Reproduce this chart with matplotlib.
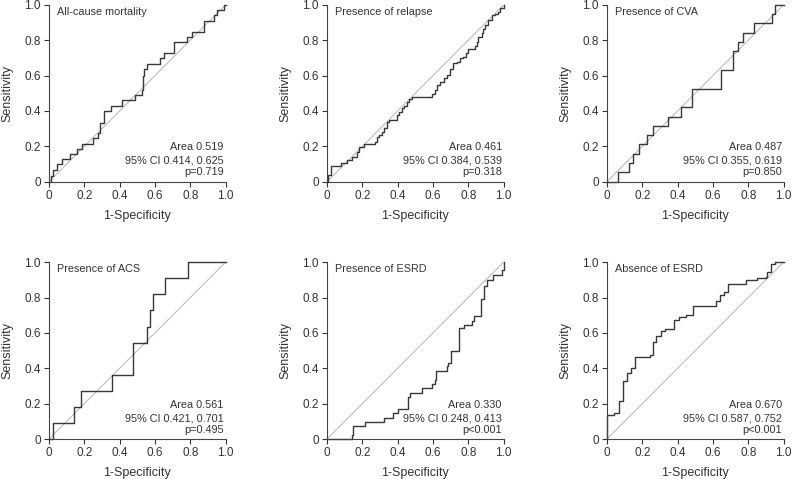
import matplotlib
matplotlib.use("Agg")
import matplotlib.pyplot as plt

plt.rcParams['font.family'] = ['Liberation Sans', 'DejaVu Sans']

# =================================
# Data
# =================================
titles = ["All-cause mortality", "Presence of relapse", "Presence of CVA",
          "Presence of ACS", "Presence of ESRD", "Absence of ESRD"]
areas = ["0.519", "0.461", "0.487", "0.561", "0.330", "0.670"]
cis = ["0.414, 0.625", "0.384, 0.539", "0.355, 0.619",
       "0.421, 0.701", "0.248, 0.413", "0.587, 0.752"]
pvals = ["p=0.719", "p=0.318", "p=0.850", "p=0.495", "p<0.001", "p<0.001"]

fpr_mort = [0, 0.01, 0.02, 0.044, 0.072, 0.119, 0.157, 0.189, 0.248, 0.28, 0.286,
            0.3125, 0.35, 0.413, 0.485, 0.527, 0.532, 0.54, 0.555, 0.63, 0.65,
            0.706, 0.782, 0.81, 0.877, 0.934, 0.953, 0.99, 1.0]
tpr_mort = [0, 0.03, 0.066, 0.10, 0.126, 0.156, 0.185, 0.213, 0.245, 0.273, 0.333,
            0.399, 0.427, 0.461, 0.49, 0.52, 0.60, 0.635, 0.668, 0.697, 0.729,
            0.791, 0.819, 0.847, 0.91, 0.94, 0.97, 1.0, 1.0]

fpr_relapse = [0, 0.006, 0.02, 0.077, 0.115, 0.143, 0.171, 0.18, 0.212, 0.274, 0.284,
               0.293, 0.312, 0.321, 0.34, 0.35, 0.396, 0.406, 0.425, 0.434, 0.453,
               0.462, 0.481, 0.594, 0.613, 0.622, 0.641, 0.66, 0.678, 0.697, 0.716,
               0.735, 0.754, 0.773, 0.79, 0.80, 0.838, 0.848, 0.857, 0.876, 0.886,
               0.895, 0.914, 0.932, 0.951, 0.97, 0.98, 1.0]
tpr_relapse = [0, 0.038, 0.09, 0.104, 0.122, 0.141, 0.169, 0.198, 0.213, 0.226, 0.254,
               0.264, 0.282, 0.301, 0.339, 0.348, 0.377, 0.395, 0.414, 0.427, 0.452,
               0.465, 0.48, 0.493, 0.518, 0.546, 0.565, 0.584, 0.603, 0.64, 0.669,
               0.678, 0.697, 0.706, 0.725, 0.753, 0.766, 0.79, 0.819, 0.838, 0.866,
               0.885, 0.913, 0.94, 0.95, 0.96, 0.98, 1.0]

fpr_cva = [0, 0.06, 0.126, 0.148, 0.182, 0.229, 0.263, 0.346, 0.421, 0.483, 0.648,
           0.712, 0.741, 0.769, 0.833, 0.934, 0.953, 1.0]
tpr_cva = [0, 0.053, 0.105, 0.158, 0.211, 0.263, 0.316, 0.368, 0.421, 0.526, 0.632,
           0.737, 0.789, 0.842, 0.895, 0.947, 1.0, 1.0]

fpr_acs = [0, 0.025, 0.142, 0.179, 0.355, 0.477, 0.557, 0.57, 0.59, 0.657, 0.787, 1.0]
tpr_acs = [0, 0.091, 0.182, 0.273, 0.364, 0.545, 0.636, 0.727, 0.818, 0.909, 1.0, 1.0]

fpr_esrd = [0, 0.13, 0.14, 0.15, 0.215, 0.32, 0.375, 0.404, 0.46, 0.47, 0.54, 0.592,
            0.61, 0.62, 0.677, 0.687, 0.70, 0.749, 0.777, 0.819, 0.83, 0.87, 0.89,
            0.904, 0.94, 0.989, 1.0]
tpr_esrd = [0, 0, 0.024, 0.072, 0.096, 0.119, 0.147, 0.17, 0.24, 0.26, 0.289, 0.311,
            0.336, 0.387, 0.41, 0.43, 0.50, 0.628, 0.647, 0.666, 0.694, 0.789, 0.864,
            0.90, 0.926, 0.958, 1.0]

fpr_no_esrd = [0, 0, 0.038, 0.066, 0.09, 0.113, 0.138, 0.16, 0.245, 0.258, 0.279,
               0.306, 0.33, 0.377, 0.406, 0.447, 0.49, 0.619, 0.642, 0.665, 0.685,
               0.787, 0.85, 0.9, 0.909, 0.928, 0.953, 1.0]
tpr_no_esrd = [0, 0.134, 0.147, 0.217, 0.326, 0.374, 0.40, 0.464, 0.477, 0.547, 0.585,
               0.609, 0.623, 0.675, 0.689, 0.704, 0.751, 0.779, 0.817, 0.83, 0.874,
               0.898, 0.908, 0.917, 0.945, 0.987, 1.0, 1.0]

curves = [(fpr_mort, tpr_mort), (fpr_relapse, tpr_relapse), (fpr_cva, tpr_cva),
          (fpr_acs, tpr_acs), (fpr_esrd, tpr_esrd), (fpr_no_esrd, tpr_no_esrd)]

tick_vals = [0, 0.2, 0.4, 0.6, 0.8, 1.0]
tick_labels = ["0", "0.2", "0.4", "0.6", "0.8", "1.0"]

# =================================
# Layout
# =================================
col_left = [0.0619, 0.4129, 0.7664]
row_bottom = [0.6207, 0.0835]
ax_w, ax_h = 0.2229, 0.3692

fig = plt.figure(figsize=(7.92, 4.79), dpi=100)

for i, (fpr, tpr) in enumerate(curves):
    ax = fig.add_axes([col_left[i % 3], row_bottom[i // 3], ax_w, ax_h])
    ax.plot([0, 1], [0, 1], color="#bdbdbd", linewidth=0.8)
    ax.step(fpr, tpr, where="post", color="#383838", linewidth=1.0, clip_on=False)

    ax.set_xlim(0, 1)
    ax.set_ylim(0, 1)
    ax.set_xticks(tick_vals, tick_labels)
    ax.set_yticks(tick_vals, tick_labels)
    ax.tick_params(length=3.5, width=0.8, pad=2.5, labelsize=8.5,
                   colors="#333333")
    for side in ("top", "right"):
        ax.spines[side].set_visible(False)
    for side in ("left", "bottom"):
        ax.spines[side].set_color("#444444")
        ax.spines[side].set_linewidth(0.8)

    ax.set_xlabel("1-Specificity", fontsize=9, color="#333333", labelpad=5.5)
    ax.set_ylabel("Sensitivity", fontsize=9, color="#333333", labelpad=7.5)

    ax.text(0.045, 0.96, titles[i], transform=ax.transAxes, fontsize=7.8,
            color="#333333", ha="left", va="center")
    ax.text(0.99, 0.194, "Area " + areas[i], transform=ax.transAxes,
            fontsize=7.8, color="#333333", ha="right", va="center")
    ax.text(0.99, 0.117, "95% CI " + cis[i], transform=ax.transAxes,
            fontsize=7.8, color="#333333", ha="right", va="center")
    ax.text(0.99, 0.053, pvals[i], transform=ax.transAxes,
            fontsize=7.8, color="#333333", ha="right", va="center")

fig.savefig("out.png", dpi=100)
